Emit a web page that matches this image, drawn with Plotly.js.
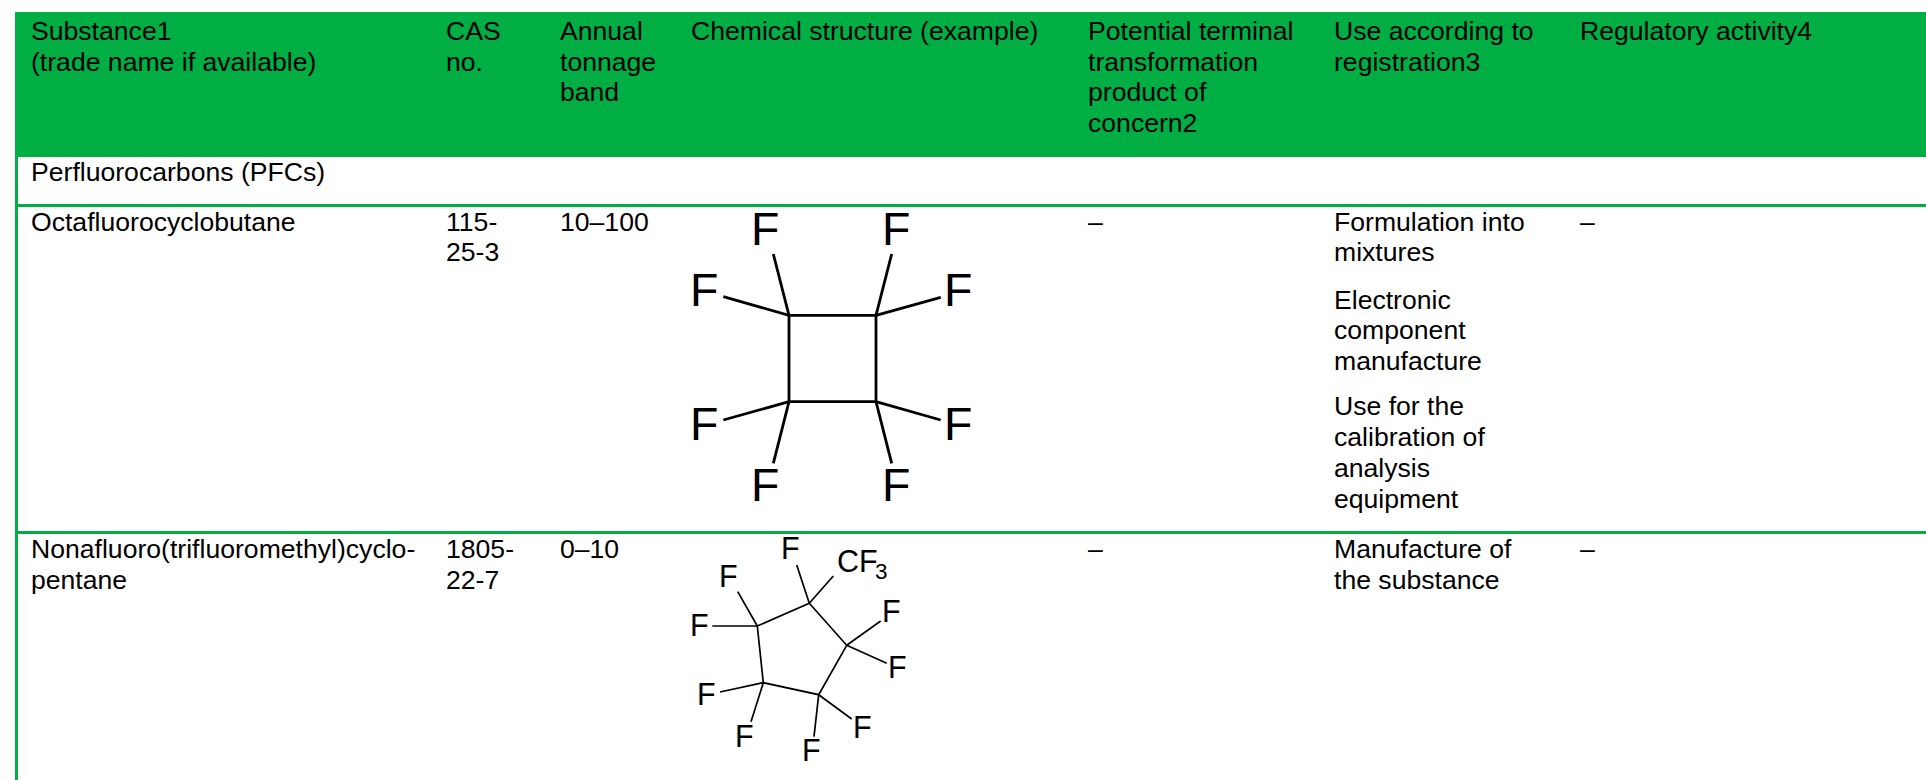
<!DOCTYPE html>
<html><head><meta charset="utf-8">
<script src="https://cdn.plot.ly/plotly-3.0.1.min.js"></script>
<style>html,body{margin:0;padding:0;background:#fff;overflow:hidden}</style>
</head><body><div id="chart" style="width:1926px;height:780px"></div>
<script>
// ---- table content ----
const headerSubstance = ["Substance1", "(trade name if available)"];
const headerCas = ["CAS", "no."];
const headerBand = ["Annual", "tonnage", "band"];
const headerStructure = ["Chemical structure (example)"];
const headerProduct = ["Potential terminal", "transformation", "product of", "concern2"];
const headerUse = ["Use according to", "registration3"];
const headerRegulatory = ["Regulatory activity4"];
const groupLabel = ["Perfluorocarbons (PFCs)"];

const row1Substance = ["Octafluorocyclobutane"];
const row1Cas = ["115-", "25-3"];
const row1Band = ["10–100"];
const row1Product = ["–"];
const row1Use = ["Formulation into", "mixtures", "Electronic", "component", "manufacture", "Use for the", "calibration of", "analysis", "equipment"];
const row1Regulatory = ["–"];

const row2Substance = ["Nonafluoro(trifluoromethyl)cyclo-", "pentane"];
const row2Cas = ["1805-", "22-7"];
const row2Band = ["0–10"];
const row2Product = ["–"];
const row2Use = ["Manufacture of", "the substance"];
const row2Regulatory = ["–"];

// ---- structure drawings (in page pixels) ----
const butaneBondX = [789,876,876,789,789,null,789,773.3,null,789,723.3,null,876,891.7,null,876,940.7,null,789,723.3,null,789,773.3,null,876,940.7,null,876,891.7];
const butaneBondY = [315.3,315.3,401.7,401.7,315.3,null,315.3,254,null,315.3,296.7,null,315.3,254,null,315.3,297.3,null,401.7,420,null,401.7,463.3,null,401.7,420,null,401.7,463.3];
const butaneAtomX = [764.7,896,703.7,957.7,703.7,957.7,764.7,896];
const butaneAtomY = [229.3,229.3,290.3,290.3,423.7,423.7,485.3,485.3];

const pentaneBondX = [809.3,846.7,818.7,763.3,757.3,809.3,null,809.3,796.7,null,809.3,833.3,null,846.7,880.7,null,846.7,886.7,null,818.7,851.7,null,818.7,814,null,763.3,720,null,763.3,751,null,757.3,712.3,null,757.3,737.7];
const pentaneBondY = [603.3,645.3,694.7,682.7,626,603.3,null,603.3,565,null,603.3,576,null,645.3,621,null,645.3,663.3,null,694.7,719,null,694.7,736.7,null,682.7,692,null,682.7,721.7,null,626,626,null,626,591.7];
const pentaneAtomX = [790.9,728.2,699.2,891.5,897.5,706.9,744.2,862.5,811.9];
const pentaneAtomY = [548.2,576.2,624.8,611.2,666.8,693.8,735.5,726.8,749.5];

// ---- layout ----
const GREEN = "#00AE44";
const FONT = "Liberation Sans, Arial, sans-serif";
const colX = {sub:31, cas:445.8, band:559.5, str:691, prod:1088, use:1334.2, reg:1580.2};
const TEXT = 26.6;
const shapes = [
  [15,12,1926,157],    // header band
  [15,157,18,780],     // left rule
  [15,204,1926,207],   // rule below group label
  [15,531,1926,534]    // rule below first row
].map(r => ({type:"rect", xref:"x", yref:"y", x0:r[0], y0:r[1], x1:r[2], y1:r[3], fillcolor:GREEN, line:{width:0}, layer:"below"}));

const annotations = [];
function put(text, x, y, size, anchor) {
  annotations.push({x, y, xref:"x", yref:"y", text, showarrow:false, xanchor:anchor||"left", yanchor:"middle",
    borderpad:0, borderwidth:0, align:"left", font:{family:FONT, size:size||TEXT, color:"#000"}});
}
function block(lines, x, ys) { lines.forEach((t,i)=>put(t, x, ys[i])); }

const headY = [31,61.7,92.3,123];
block(headerSubstance, colX.sub, headY);
block(headerCas, colX.cas, headY);
block(headerBand, colX.band, headY);
block(headerStructure, colX.str, headY);
block(headerProduct, colX.prod, headY);
block(headerUse, colX.use, headY);
block(headerRegulatory, colX.reg, headY);
block(groupLabel, colX.sub, [171.6]);

const r1Y = [221.8,252.3];
block(row1Substance, colX.sub, r1Y);
block(row1Cas, colX.cas, r1Y);
block(row1Band, colX.band, r1Y);
block(row1Product, colX.prod, r1Y);
block(row1Use, colX.use, [221.8,252.4,299.8,330,360.8,406.4,437.4,468.4,499]);
block(row1Regulatory, colX.reg, r1Y);

const r2Y = [549,579.7];
block(row2Substance, colX.sub, r2Y);
block(row2Cas, colX.cas, r2Y);
block(row2Band, colX.band, r2Y);
block(row2Product, colX.prod, r2Y);
block(row2Use, colX.use, r2Y);
block(row2Regulatory, colX.reg, r2Y);

butaneAtomX.forEach((x,i)=>put("F", x, butaneAtomY[i], 46.5, "center"));
pentaneAtomX.forEach((x,i)=>put("F", x, pentaneAtomY[i], 30.5, "center"));
put("CF", 836.6, 561, 30.5);
put("3", 881.5, 571.5, 22.5, "center");

const traces = [
  {x:butaneBondX, y:butaneBondY, mode:"lines", line:{color:"#000", width:2.8}, hoverinfo:"skip", connectgaps:false, cliponaxis:false},
  {x:pentaneBondX, y:pentaneBondY, mode:"lines", line:{color:"#000", width:1.7}, hoverinfo:"skip", connectgaps:false, cliponaxis:false}
];

Plotly.newPlot("chart", traces, {
  width:1926, height:780, margin:{l:0,r:0,t:0,b:0,pad:0},
  paper_bgcolor:"#fff", plot_bgcolor:"#fff", showlegend:false,
  xaxis:{range:[0,1926], visible:false, fixedrange:true},
  yaxis:{range:[780,0], visible:false, fixedrange:true},
  shapes, annotations
}, {displayModeBar:false, staticPlot:true});
</script></body></html>
